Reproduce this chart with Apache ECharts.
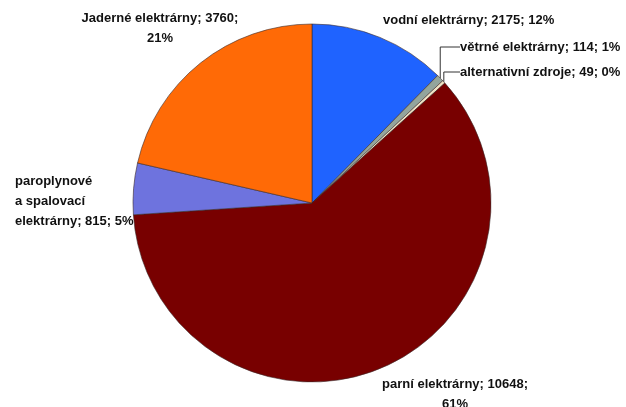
<!DOCTYPE html>
<html>
<head>
<meta charset="utf-8">
<script src="https://cdn.jsdelivr.net/npm/echarts@6/dist/echarts.min.js"></script>
<style>
  html, body { margin: 0; padding: 0; background: #fff; }
  #chart { width: 626px; height: 407px; }
</style>
</head>
<body>
<div id="chart"></div>
<script>
// data
const names = ["vodní elektrárny", "větrné elektrárny", "alternativní zdroje", "parní elektrárny", "paroplynové\na spalovací\nelektrárny", "Jaderné elektrárny"];
const values = [2175, 114, 49, 10648, 815, 3760];
const colors = ["#1f63ff", "#93a59c", "#efe3c4", "#780000", "#6e73de", "#ff6a06"];

// label spots (x, y, align)
const labelSpots = [
  [383, 20, "left"],
  [460, 47, "left"],
  [460, 72, "left"],
  [455, 394, "center"],
  [15, 201, "left"],
  [160, 28, "center"],
];

const chart = echarts.init(document.getElementById("chart"));
chart.setOption({
  animation: false,
  series: [
    {
      type: "pie",
      center: [312, 203],
      radius: 179,
      startAngle: 90,
      clockwise: true,
      percentPrecision: 0,
      avoidLabelOverlap: false,
      data: values.map((v, i) => ({
        name: names[i],
        value: v,
        itemStyle: { color: colors[i] },
        labelLine: { show: i === 1 || i === 2 },
      })),
      itemStyle: { borderColor: "#3a2a2a", borderWidth: 0.6 },
      label: {
        show: true,
        color: "#111",
        fontFamily: "Liberation Sans Narrow, Arial Narrow, sans-serif",
        fontWeight: "bold",
        fontSize: 13,
        lineHeight: 20,
        formatter: (p) => {
          if (p.dataIndex === 0 || p.dataIndex === 1 || p.dataIndex === 2 || p.dataIndex === 4)
            return p.name + "; " + p.value + "; " + p.percent + "%";
          return p.name + "; " + p.value + ";\n" + p.percent + "%";
        },
      },
      labelLine: {
        lineStyle: { color: "#333", width: 1 },
      },
      labelLayout: (p) => {
        const s = labelSpots[p.dataIndex];
        return { x: s[0], y: s[1], align: s[2], verticalAlign: "middle" };
      },
    },
  ],
});
</script>
</body>
</html>
